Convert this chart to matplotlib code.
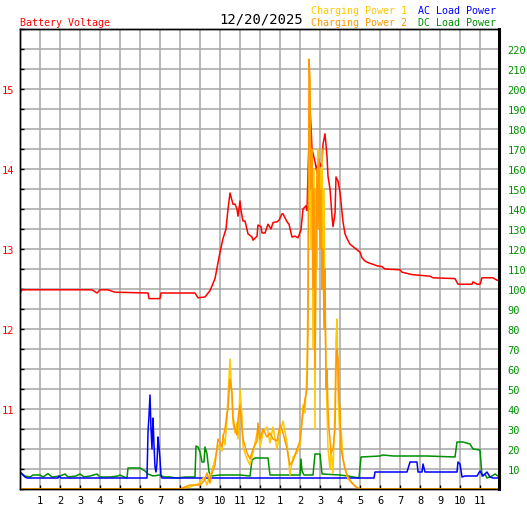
import matplotlib
matplotlib.use('Agg')
import matplotlib.pyplot as plt
from matplotlib.ticker import MultipleLocator, FixedLocator

plt.rcParams['font.family'] = ['DejaVu Sans Mono']

# Battery voltage (hour of day, volts)
volt_t = [0, 0.1, 3.6, 3.85, 4.0, 4.4, 4.75, 6.4, 6.45, 7.0, 7.05, 8.75, 8.9, 9.25,
          9.5, 9.75, 10.0, 10.15, 10.3, 10.4, 10.5, 10.65, 10.75, 10.85, 10.9, 11.0,
          11.05, 11.15, 11.25, 11.4, 11.6, 11.65, 11.85, 11.9, 12.05, 12.1, 12.25,
          12.4, 12.55, 12.65, 12.85, 12.95, 13.1, 13.15, 13.35, 13.45, 13.6, 13.75,
          13.9, 14.05, 14.15, 14.3, 14.35, 14.4, 14.5, 14.55, 14.6, 14.75, 14.85,
          14.9, 15.0, 15.1, 15.15, 15.25, 15.35, 15.4, 15.5, 15.6, 15.65, 15.75,
          15.8, 15.9, 16.0, 16.1, 16.15, 16.25, 16.35, 16.5, 17.0, 17.1, 17.25,
          17.4, 17.75, 17.85, 18.1, 18.25, 19.0, 19.1, 19.6, 20.5, 20.65, 21.75,
          21.9, 22.6, 22.65, 22.85, 23.0, 23.1, 23.65, 23.85, 24.0]
volt_v = [12.45, 12.49, 12.49, 12.45, 12.49, 12.49, 12.46, 12.45, 12.38, 12.38, 12.45,
          12.45, 12.39, 12.40, 12.48, 12.63, 12.96, 13.13, 13.25, 13.5, 13.7, 13.56,
          13.56, 13.5, 13.41, 13.6, 13.48, 13.35, 13.35, 13.19, 13.15, 13.11, 13.16,
          13.3, 13.28, 13.2, 13.2, 13.31, 13.25, 13.33, 13.34, 13.36, 13.44, 13.44,
          13.34, 13.31, 13.15, 13.16, 13.14, 13.24, 13.5, 13.54, 13.48, 13.94, 14.75,
          14.54, 14.25, 14.09, 13.96, 14.13, 14.03, 14.1, 14.31, 14.44, 14.16, 13.91,
          13.75, 13.41, 13.28, 13.44, 13.9, 13.85, 13.71, 13.46, 13.34, 13.19, 13.13,
          13.06, 12.96, 12.89, 12.85, 12.83, 12.8, 12.79, 12.78, 12.75, 12.74, 12.71,
          12.68, 12.66, 12.64, 12.63, 12.56, 12.56, 12.59, 12.56, 12.56, 12.64, 12.64,
          12.61, 12.61]

# Charging power 1 and 2 (watts)
chg_t = [0, 8.0, 8.5, 9.0, 9.2, 9.35, 9.5, 9.6, 9.75, 9.9, 10.1, 10.15, 10.25, 10.35,
         10.4, 10.5, 10.6, 10.65, 10.75, 10.85, 10.9, 11.0, 11.1, 11.15, 11.35, 11.5,
         11.65, 11.85, 11.9, 12.0, 12.15, 12.35, 12.5, 12.65, 12.85, 13.0, 13.15,
         13.35, 13.5, 13.65, 13.85, 14.0, 14.15, 14.25, 14.35, 14.4, 14.45, 14.5,
         14.55, 14.6, 14.65, 14.7, 14.75, 14.8, 14.85, 14.9, 14.95, 15.0, 15.05,
         15.1, 15.15, 15.2, 15.25, 15.3, 15.35, 15.4, 15.45, 15.5, 15.55, 15.65,
         15.75, 15.8, 15.85, 15.9, 15.95, 16.0, 16.05, 16.15, 16.25, 16.4, 16.6,
         16.8, 17.0, 24.0]
chg1_w = [0, 0, 1, 3, 6, 2, 7, 9, 15, 22, 19, 27, 22, 35, 47, 65, 45, 33, 28, 33, 25,
          50, 36, 21, 15, 12, 18, 28, 31, 21, 28, 31, 23, 31, 20, 28, 34, 23, 7, 16,
          18, 22, 42, 38, 60, 100, 165, 180, 120, 165, 70, 160, 30, 150, 110, 170, 140,
          160, 130, 170, 110, 150, 90, 60, 40, 20, 15, 10, 20, 8, 40, 75, 85, 50, 35,
          25, 30, 15, 10, 5, 3, 1, 0, 0]
chg2_w = [0, 0, 2, 2, 4, 8, 3, 8, 12, 25, 21, 26, 30, 38, 40, 55, 48, 36, 30, 27, 35,
          42, 30, 25, 18, 15, 20, 24, 33, 25, 30, 26, 28, 25, 24, 32, 28, 20, 12, 14,
          20, 24, 38, 45, 50, 80, 215, 205, 150, 170, 100, 150, 60, 120, 160, 130, 165,
          120, 150, 100, 120, 80, 110, 50, 60, 40, 30, 25, 18, 20, 30, 60, 70, 65, 45,
          40, 20, 15, 10, 6, 3, 1, 0, 0]

# AC load power (watts)
ac_t = [0.05, 0.25, 0.35, 1.9, 1.95, 2.05, 6.35, 6.4, 6.45, 6.5, 6.55, 6.6, 6.63,
        6.65, 6.7, 6.75, 6.8, 6.85, 6.9, 6.95, 7.0, 7.05, 7.1, 17.7, 17.75, 19.35,
        19.5, 19.85, 19.9, 20.1, 20.15, 20.25, 21.85, 21.9, 22.0, 22.1, 22.25, 22.85,
        23.0, 23.15, 23.35, 23.5, 23.65, 24.0]
ac_w = [8, 6, 5.5, 5.5, 6.5, 5.5, 5.5, 28.5, 36.5, 47, 30, 20, 30, 35.5, 22, 11, 8.5,
        13, 26, 21, 15, 6.5, 5.5, 5.5, 8.5, 8.5, 13.5, 13.5, 8.5, 8.5, 12.5, 8.5, 8.5,
        13.5, 12.5, 6, 6.5, 6.5, 9, 6.5, 8.5, 6, 5.5, 5.5]

# DC load power (watts)
dc_t = [0.05, 0.25, 0.5, 0.65, 1.0, 1.15, 1.4, 1.6, 2.0, 2.25, 2.4, 2.8, 3.0, 3.2, 3.5,
        3.85, 4.0, 4.5, 4.9, 5.0, 5.2, 5.35, 5.4, 6.0, 6.25, 6.4, 6.65, 7.0, 7.2, 7.5,
        7.8, 8.3, 8.75, 8.8, 8.9, 9.0, 9.1, 9.2, 9.25, 9.35, 9.45, 9.55, 10.0, 11.0,
        11.5, 11.6, 11.75, 12.4, 12.5, 14.0, 14.05, 14.1, 14.2, 14.65, 14.75, 15.0,
        15.1, 16.0, 16.4, 16.95, 17.05, 18.0, 18.15, 18.65, 19.5, 20.35, 21.75, 21.85,
        22.15, 22.5, 22.65, 23.0, 23.1, 23.25, 23.35, 23.6, 23.75, 23.9]
dc_w = [8, 6.5, 6, 7, 7, 6, 7.7, 6, 6.5, 7.5, 6, 6.5, 7.5, 6, 6.5, 7.5, 6, 6, 6.5, 7, 6,
        5.5, 10.5, 10.5, 9, 7.5, 6.5, 7, 6, 6, 5.5, 6, 6, 21.5, 21, 18.5, 13.5, 13.5,
        21, 17.5, 8.5, 6.5, 7, 7, 6.5, 14.5, 15.5, 15.5, 7, 7, 15, 9, 7, 7, 17.5, 17.5,
        7.5, 7, 6.5, 5.5, 16, 16.5, 17, 16.5, 16.5, 16.5, 16, 23.5, 23.5, 22.5, 20,
        19.5, 6.5, 7.5, 5.5, 6.5, 7.5, 6.5]

hour_labels = [str(h) for h in range(1, 12)] + ['12'] + [str(h) for h in range(1, 12)]
volt_ticks = [11, 12, 13, 14, 15]
power_ticks = list(range(10, 230, 10))

W, H = 527, 510
fig = plt.figure(figsize=(W / 100, H / 100), dpi=100)
ax = fig.add_axes([20 / W, 20 / H, 479 / W, 460 / H])
ax2 = ax.twinx()

ax.set_xlim(0, 23.95)
ax.set_ylim(10, 15.75)
ax2.set_ylim(0, 230)

grid_c = '#a6a6a6'
ax.xaxis.set_major_locator(FixedLocator(range(1, 24)))
ax.set_xticklabels(hour_labels)
ax.yaxis.set_major_locator(FixedLocator(volt_ticks))
ax.yaxis.set_minor_locator(MultipleLocator(0.25))
ax.grid(True, which='both', color=grid_c, lw=1.1)
ax.set_axisbelow(True)

ax.tick_params(axis='x', direction='in', length=3, width=1, color='black',
               labelsize=7.5, pad=4, labelcolor='black')
ax.tick_params(axis='y', which='both', direction='in', length=3, width=1,
               color='black', labelsize=7.5, labelcolor='red', pad=4)
ax.tick_params(axis='y', which='minor', labelleft=False)

ax2.set_yticks(power_ticks)
ax2.tick_params(axis='y', direction='in', length=0, labelsize=7.5,
                labelcolor='#009000', pad=6)

for a in (ax, ax2):
    for s in a.spines.values():
        s.set_color('black')
        s.set_linewidth(1)
ax2.spines['right'].set_linewidth(2.2)

ax.plot(volt_t, volt_v, color='#ff0000', lw=1.1, zorder=3)
ax2.plot(dc_t, dc_w, color='#009000', lw=1.1)
ax2.plot(ac_t, ac_w, color='#0000ff', lw=1.1)
ax2.plot(chg_t, chg1_w, color='#ffc800', lw=1.1)
ax2.plot(chg_t, chg2_w, color='#ff9900', lw=1.1)

fs = 7.2
fig.text(20 / W, 1 - 23.5 / H, 'Battery Voltage', color='red', fontsize=fs,
         ha='left', va='center')
fig.text(261 / W, 1 - 19.5 / H, '12/20/2025', color='black', fontsize=10,
         ha='center', va='center')
fig.text(311 / W, 1 - 11.5 / H, 'Charging Power 1', color='#ffc800', fontsize=fs,
         ha='left', va='center')
fig.text(311 / W, 1 - 23.5 / H, 'Charging Power 2', color='#ff9900', fontsize=fs,
         ha='left', va='center')
fig.text(418 / W, 1 - 11.5 / H, 'AC Load Power', color='#0000ff', fontsize=fs,
         ha='left', va='center')
fig.text(418 / W, 1 - 23.5 / H, 'DC Load Power', color='#009000', fontsize=fs,
         ha='left', va='center')

fig.savefig('out.png', dpi=100)
